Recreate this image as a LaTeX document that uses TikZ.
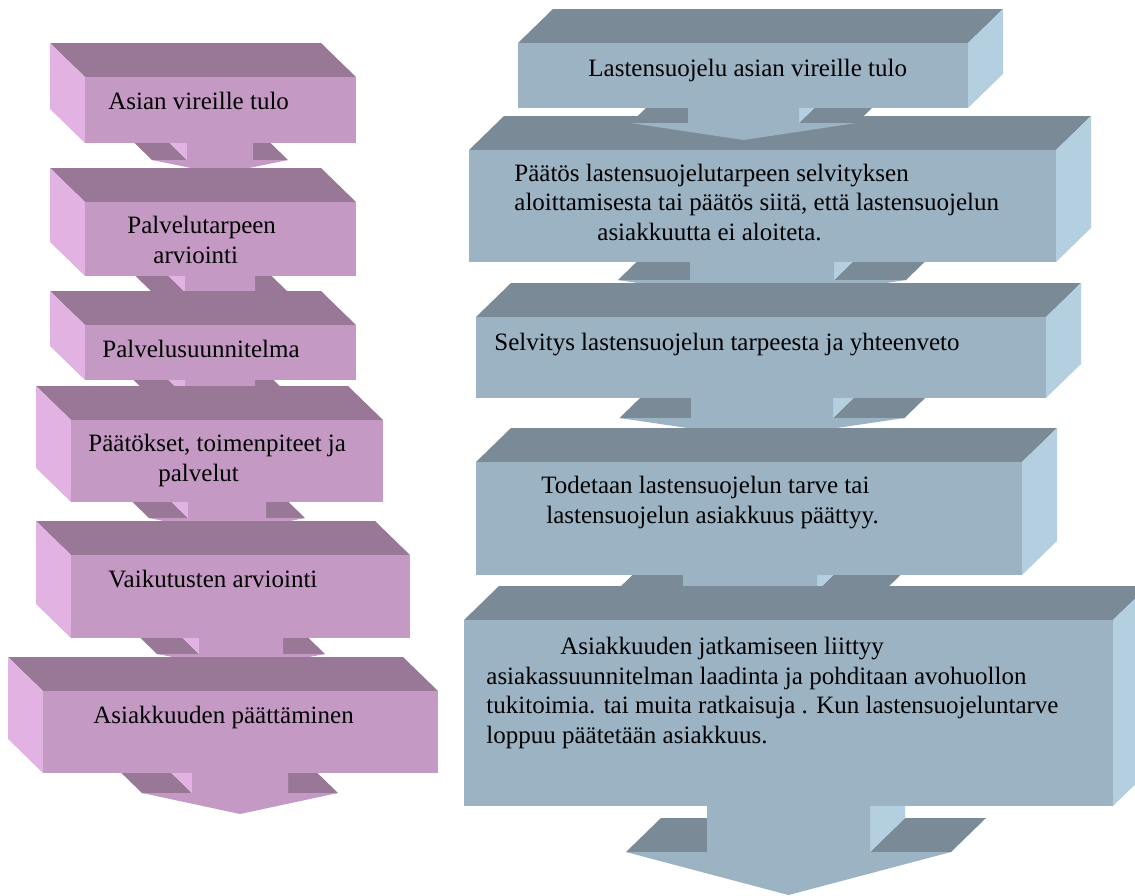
\documentclass[tikz,border=0pt]{standalone}
\usepackage{fontspec}
\setmainfont{Liberation Serif}

\definecolor{lilafront}{RGB}{196,154,196}
\definecolor{lilatop}{RGB}{152,120,150}
\definecolor{lilaside}{RGB}{226,178,226}
\definecolor{harmfront}{RGB}{156,179,195}
\definecolor{harmtop}{RGB}{122,138,150}
\definecolor{harmside}{RGB}{180,208,224}

% 3D box, depth to the upper left (front face x1,y1,x2,y2)
\newcommand{\laatikkoL}[4]{%
  \fill[lilatop]  (#1,#2) -- (#3,#2) -- ++(-35,-34) -- (#1-35,#2-34) -- cycle;
  \fill[lilaside] (#1,#2) -- (#1,#4) -- ++(-35,-34) -- (#1-35,#2-34) -- cycle;
  \fill[lilafront] (#1,#2) rectangle (#3,#4);}
% 3D box, depth to the upper right
\newcommand{\laatikkoR}[4]{%
  \fill[harmtop]  (#1,#2) -- (#3,#2) -- ++(35,-34) -- (#1+35,#2-34) -- cycle;
  \fill[harmside] (#3,#2) -- (#3,#4) -- ++(35,-34) -- (#3+35,#2-34) -- cycle;
  \fill[harmfront] (#1,#2) rectangle (#3,#4);}
% block arrow: centre, top, shaft, wing, wing y, tip y, colour, depth
\newcommand{\nuoli}[8]{%
  \fill[#7top] (#1-#4,#5) -- (#1-#3,#5) -- ++(#8,-34) -- ({#1-#4+(#8)},#5-34) -- cycle;
  \fill[#7top] (#1+#3,#5) -- (#1+#4,#5) -- ++(#8,-34) -- ({#1+#3+(#8)},#5-34) -- cycle;
  \fill[#7side] ({#1+sign(#8)*#3},#2) -- ({#1+sign(#8)*#3},#5) -- ++(#8,-34)
    -- ({#1+sign(#8)*#3+(#8)},#2-34) -- cycle;
  \fill[#7front] (#1-#3,#2) -- (#1-#3,#5) -- (#1-#4,#5) -- (#1,#6)
    -- (#1+#4,#5) -- (#1+#3,#5) -- (#1+#3,#2) -- cycle;}

\begin{document}
\begin{tikzpicture}[x=0.5pt,y=-0.5pt]
\tikzstyle{teksti}=[anchor=base west, inner sep=0, align=left,
  font=\fontsize{12.5}{14.75}\selectfont]
\useasboundingbox (0,0) rectangle (1135,895);

\nuoli{220}{125}{33}{68}{160}{174}{lila}{-35}
\nuoli{220}{258}{35}{68}{292}{306}{lila}{-35}
\nuoli{220}{362}{35}{70}{396}{410}{lila}{-35}
\nuoli{227}{484}{39}{78}{518}{534}{lila}{-35}
\nuoli{241}{620}{42}{84}{654}{670}{lila}{-35}
\nuoli{240}{755}{48}{98}{793}{814}{lila}{-35}

\laatikkoL{85}{77}{356}{143}
\laatikkoL{85}{202}{356}{276}
\laatikkoL{85}{325}{356}{380}
\laatikkoL{71}{420}{383}{502}
\laatikkoL{71}{555}{410}{638}
\laatikkoL{43}{691}{438}{773}

\nuoli{762}{244}{72}{144}{280}{302}{harm}{35}
\nuoli{762}{380}{71}{142.5}{418}{439}{harm}{35}
\nuoli{750}{557}{67}{134}{591}{611}{harm}{35}
\nuoli{788.5}{788}{81.5}{162.5}{852}{895}{harm}{35}

\laatikkoR{469}{150}{1056}{262}
\laatikkoR{476}{317}{1046}{398}
\laatikkoR{476}{462}{1022}{575}
\laatikkoR{464}{620}{1113}{806}
\nuoli{743.5}{90}{55.5}{113}{123}{140}{harm}{35}
\laatikkoR{518}{43}{968}{108}

% multi-line nodes sit on the baseline of their last line
\node[teksti] (vireille)    at (108,109) {Asian vireille tulo};
\node[teksti] (arviointi)   at (127,263) {Palvelutarpeen\\\hspace*{13pt}arviointi};
\node[teksti] (suunnitelma) at (102,357) {Palvelusuunnitelma};
\node[teksti] (paatokset)   at (88,481)  {Päätökset, toimenpiteet ja\\\hspace*{35pt}palvelut};
\node[teksti] (vaikutukset) at (108,587) {Vaikutusten arviointi};
\node[teksti] (paattaminen) at (93,723)  {Asiakkuuden päättäminen};

\node[teksti] (lsvireille) at (588,76)  {Lastensuojelu asian vireille tulo};
\node[teksti] (lspaatos)   at (514,240) {Päätös lastensuojelutarpeen selvityksen\\
  aloittamisesta tai päätös siitä, että lastensuojelun\\\hspace*{41.5pt}asiakkuutta ei aloiteta.};
\node[teksti] (selvitys)   at (494,350) {Selvitys lastensuojelun tarpeesta ja yhteenveto};
\node[teksti] (todetaan)   at (541,523) {Todetaan lastensuojelun tarve tai\\
  \hspace*{2.5pt}lastensuojelun asiakkuus päättyy.};
\node[teksti] (jatkaminen) at (486,743) {\hspace*{37pt}Asiakkuuden jatkamiseen liittyy\\
  asiakassuunnitelman laadinta ja pohditaan avohuollon\\
  tukitoimia. tai muita ratkaisuja . Kun lastensuojeluntarve\\
  loppuu päätetään asiakkuus.};
\end{tikzpicture}
\end{document}
